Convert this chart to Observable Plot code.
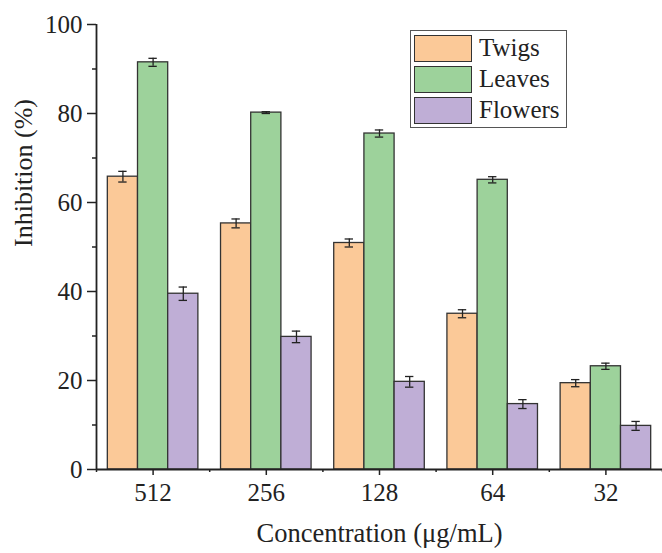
<!DOCTYPE html>
<html><head><meta charset="utf-8">
<script src="https://cdn.jsdelivr.net/npm/d3@7"></script>
<script src="https://cdn.jsdelivr.net/npm/@observablehq/plot@0.6"></script>
<style>
body{margin:0;background:#fff}
#wrap{position:relative;width:662px;height:553px;font-family:"Liberation Serif",serif;color:#222}
#legend{position:absolute;left:410px;top:30px;width:157px;height:98px;border:1.3px solid #555;background:#fff;box-sizing:border-box}
.li{position:absolute;left:3px;height:28px;display:flex;align-items:center}
.sw{width:58px;height:27px;border:1.3px solid #333;box-sizing:border-box;margin-right:7px}
.lt{font-size:25px;line-height:28px}
</style>
</head><body><div id="wrap"></div>
<script>
const concentrations = ["512","256","128","64","32"];
const series = ["Twigs","Leaves","Flowers"];
const twigs = [65.8,55.3,50.9,35.0,19.4];
const twigsErr = [1.2,1.0,0.9,0.9,0.8];
const leaves = [91.5,80.2,75.5,65.1,23.2];
const leavesErr = [0.9,0.2,0.8,0.7,0.7];
const flowers = [39.5,29.8,19.7,14.7,9.8];
const flowersErr = [1.5,1.3,1.2,1.0,1.0];
const colors = ["#FBC998","#9DD29B","#BFAED6"];
const yTicks = [0,20,40,60,80,100];
const yMinor = [10,30,50,70,90];

const values = [twigs, leaves, flowers];
const errs = [twigsErr, leavesErr, flowersErr];
const groupW = 0.8, barW = groupW / series.length;
const rows = [];
concentrations.forEach((c, i) => {
  series.forEach((s, k) => {
    const x1 = i - groupW / 2 + k * barW;
    rows.push({conc: c, series: s, x1, x2: x1 + barW, xc: x1 + barW / 2,
      value: values[k][i], lo: values[k][i] - errs[k][i], hi: values[k][i] + errs[k][i]});
  });
});
const n = concentrations.length;
const majorX = d3.range(n);
const minorX = d3.range(n + 1).map(i => i - 0.5);
const cap = 0.037;

const chart = Plot.plot({
  width: 662, height: 553,
  marginLeft: 96, marginRight: 0, marginTop: 24, marginBottom: 84,
  style: {fontFamily: "Liberation Serif, serif", fontSize: "25px", color: "#222", background: "#fff"},
  x: {domain: [-0.5, n - 0.5], axis: null},
  y: {domain: [0, 100], axis: null},
  color: {domain: series, range: colors},
  marks: [
    Plot.rect(rows, {x1: "x1", x2: "x2", y1: 0, y2: "value", fill: "series", stroke: "#333", strokeWidth: 1.3}),
    Plot.ruleX(rows, {x: "xc", y1: "lo", y2: "hi", stroke: "#222", strokeWidth: 1.3}),
    Plot.ruleY(rows, {y: "hi", x1: d => d.xc - cap, x2: d => d.xc + cap, stroke: "#222", strokeWidth: 1.3}),
    Plot.ruleY(rows, {y: "lo", x1: d => d.xc - cap, x2: d => d.xc + cap, stroke: "#222", strokeWidth: 1.3}),
    Plot.axisX({ticks: majorX, tickFormat: i => concentrations[i], tickSize: 6, tickPadding: 8, stroke: "#222", strokeWidth: 1.5, label: null, fontSize: 25}),
    Plot.axisX({ticks: minorX, tickFormat: () => "", tickSize: 3, stroke: "#222", strokeWidth: 1.5, label: null}),
    Plot.axisY({ticks: yTicks, tickSize: 9, tickPadding: 5, stroke: "#222", strokeWidth: 1.5, label: null, fontSize: 25}),
    Plot.axisY({ticks: yMinor, tickSize: 4, tickFormat: () => "", stroke: "#222", strokeWidth: 1.5, label: null}),
    Plot.ruleY([0], {stroke: "#222", strokeWidth: 1.8}),
    Plot.ruleX([-0.5], {stroke: "#222", strokeWidth: 1.8}),
    Plot.text(["Inhibition (%)"], {frameAnchor: "left", dx: -73, rotate: -90, fontSize: 26, fill: "#222"}),
    Plot.text(["Concentration (μg/mL)"], {frameAnchor: "bottom", dy: 72, fontSize: 26.5, fill: "#222"})
  ]
});
const wrap = document.getElementById("wrap");
wrap.appendChild(chart);
const legend = document.createElement("div");
legend.id = "legend";
series.forEach((s, k) => {
  const item = document.createElement("div");
  item.className = "li";
  item.style.top = (3 + k * 31) + "px";
  const sw = document.createElement("div");
  sw.className = "sw";
  sw.style.background = colors[k];
  const t = document.createElement("span");
  t.className = "lt";
  t.textContent = s;
  item.appendChild(sw); item.appendChild(t);
  legend.appendChild(item);
});
wrap.appendChild(legend);
</script>
</body></html>
